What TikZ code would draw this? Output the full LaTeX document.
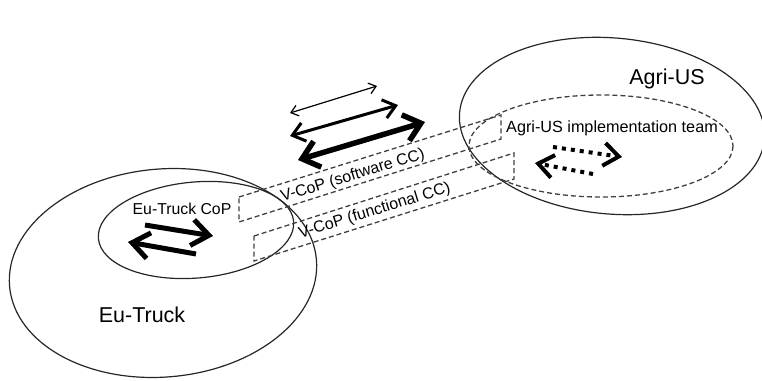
\documentclass[tikz,border=0pt]{standalone}
\usepackage{fontspec}
\setmainfont{Liberation Sans}
\usetikzlibrary{arrows.meta}
\begin{document}
\begin{tikzpicture}[x=1pt,y=-1pt,
  oval/.style={draw=black!85, line width=1.2pt},
  dashline/.style={draw=black!75, line width=1.3pt, dash pattern=on 5pt off 3pt},
  biglabel/.style={font=\fontsize{21.5}{25}\selectfont, inner sep=0pt, anchor=base},
  midlabel/.style={font=\fontsize{15.8}{18}\selectfont, inner sep=0pt, anchor=base},
  vlabel/.style={font=\fontsize{16}{19}\selectfont, inner sep=0pt, anchor=base, rotate=17},
  thinarr/.style={line width=1.2pt, {Straight Barb[length=7pt,width=11pt]}-{Straight Barb[length=7pt,width=11pt]}},
  medarr/.style={line width=3pt, {Straight Barb[length=12pt,width=19pt]}-{Straight Barb[length=12pt,width=19pt]}},
  fatarr/.style={line width=5.5pt, {Straight Barb[length=16pt,width=27pt]}-{Straight Barb[length=16pt,width=27pt]}},
  boldarr/.style={line width=5pt, -{Straight Barb[length=17pt,width=26pt]}},
  dotarr/.style={line width=4pt, dash pattern=on 4pt off 5pt, -{Straight Barb[length=15pt,width=23pt]}}
]
\useasboundingbox (0,0) rectangle (762,380);

% ovals
\draw[oval, rotate around={5:(163,273)}] (163,273) ellipse [x radius=154, y radius=104];
\draw[oval, rotate around={5:(196,230)}] (196,230) ellipse [x radius=98, y radius=48];
\draw[oval, rotate around={-5:(612,126)}] (612,126) ellipse [x radius=153, y radius=88];
\draw[dashline] (601,146) ellipse [x radius=132, y radius=51];

% V-CoP bands
\draw[dashline] (239,197) -- (501,115) -- (501,139) -- (239,222) -- cycle;
\draw[dashline] (254,236) -- (514,153) -- (514,179) -- (254,261) -- cycle;

% labels
\node[biglabel] (agri) at (667,84) {Agri-US};
\node[biglabel] (eut) at (142,322) {Eu-Truck};
\node[font=\fontsize{16.2}{19}\selectfont, inner sep=0pt, anchor=base] (team) at (612,132) {Agri-US implementation team};
\node[midlabel] (cop) at (182,214) {Eu-Truck CoP};
\node[vlabel] (vsw) at (354,180) {V-CoP (software CC)};
\node[vlabel] (vfn) at (376,215) {V-CoP (functional CC)};

% double arrows between groups
\coordinate (a1) at (290,113); \coordinate (b1) at (377,86);
\coordinate (a2) at (290,136); \coordinate (b2) at (398,105);
\coordinate (a3) at (298,160); \coordinate (b3) at (425,122);
\draw[thinarr] (a1) -- (b1);
\draw[medarr] (a2) -- (b2);
\draw[fatarr] (a3) -- (b3);

% Eu-Truck CoP arrows
\coordinate (c1) at (145,225); \coordinate (d1) at (213,236);
\coordinate (c2) at (196,254); \coordinate (d2) at (128,242);
\draw[boldarr] (c1) -- (d1);
\draw[boldarr] (c2) -- (d2);

% Agri-US team dotted arrows
\coordinate (e1) at (553,147); \coordinate (f1) at (622,157);
\coordinate (e2) at (593,174); \coordinate (f2) at (535,163);
\draw[dotarr] (e1) -- (f1);
\draw[dotarr] (e2) -- (f2);
\end{tikzpicture}
\end{document}
